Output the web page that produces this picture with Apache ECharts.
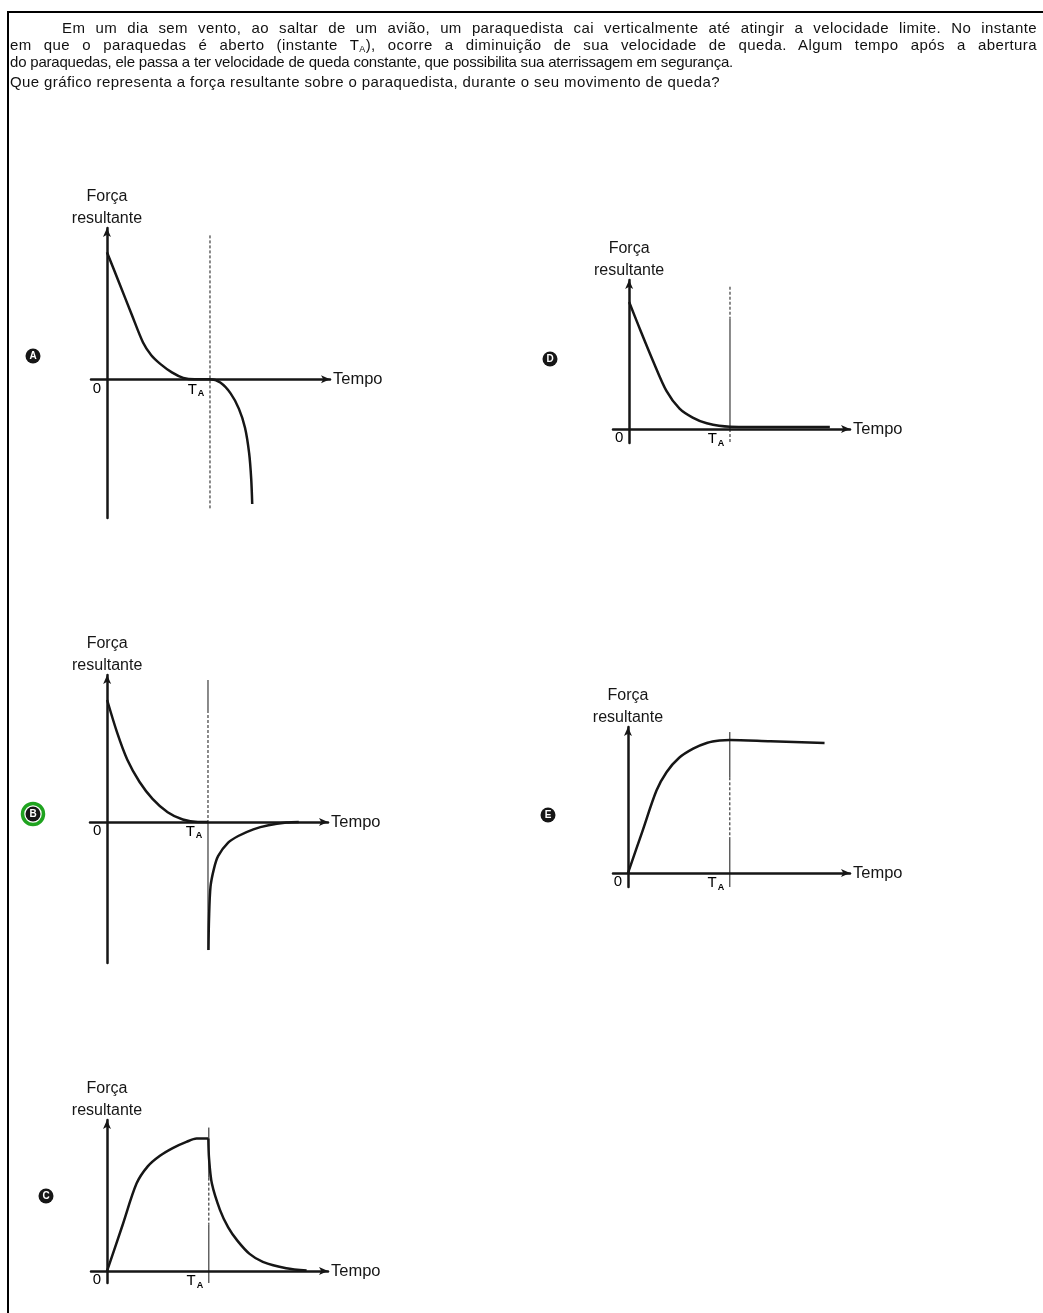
<!DOCTYPE html>
<html>
<head>
<meta charset="utf-8">
<script src="https://cdn.jsdelivr.net/npm/echarts@6/dist/echarts.min.js"></script>
<style>
  html, body { margin: 0; padding: 0; background: #fff; }
  #main { position: absolute; left: 0; top: 0; width: 1043px; height: 1313px; }
  #frame { position: absolute; left: 7px; top: 11px; width: 1036px; height: 1302px;
           border-top: 2px solid #000; border-left: 2px solid #000; pointer-events: none; }
  #question { position: absolute; left: 10px; top: 19px; width: 1027px; color: #111;
              font-family: 'Liberation Sans', Arial, sans-serif; font-size: 15px; line-height: 17px; }
  #question div { white-space: nowrap; }
  #question .j { white-space: normal; text-align: justify; text-align-last: justify; letter-spacing: 0.4px; }
  #question .first { text-indent: 52px; }
  #question .last { letter-spacing: -0.2px; }
  #question .ask { margin-top: 3px; letter-spacing: 0.4px; }
  #question sub { font-size: 9px; vertical-align: -2px; line-height: 0; }
</style>
</head>
<body>
<div id="main"></div>
<div id="frame"></div>
<div id="question">
  <div class="j first">Em um dia sem vento, ao saltar de um avião, um paraquedista cai verticalmente até atingir a velocidade limite. No instante</div>
  <div class="j">em que o paraquedas é aberto (instante T<sub>A</sub>), ocorre a diminuição de sua velocidade de queda. Algum tempo após a abertura</div>
  <div class="last">do paraquedas, ele passa a ter velocidade de queda constante, que possibilita sua aterrissagem em segurança.</div>
  <div class="ask">Que gráfico representa a força resultante sobre o paraquedista, durante o seu movimento de queda?</div>
</div>
<script>
var chartDom = document.getElementById('main');
var myChart = echarts.init(chartDom);

// time in units where T_A = 10, force in units where the peak = 10
var tickValues = [0, 10];
var tickLabels = ['0', 'TA'];
var panelLetters = ['A', 'B', 'C', 'D', 'E'];
var correctLetter = 'B';

var forceA = [[0, 10], [1.2, 7.55], [2.4, 5.1], [3.5, 2.9], [4.3, 1.9], [5.2, 1.2], [6.3, 0.55], [7.4, 0.12], [8.5, 0], [10, 0],
  [11, -0.25], [12, -1.1], [12.8, -2.3], [13.4, -3.8], [13.8, -5.8], [14.0, -7.8], [14.1, -9.8]];

var forceB1 = [[0, 10], [1, 7.3], [2, 5.1], [3.2, 3.3], [4.5, 1.9], [6, 0.8], [7.5, 0.2], [9, 0], [10, 0]];
var forceB2 = [[10.05, -10.5], [10.1, -8], [10.25, -5.3], [10.6, -3.8], [11, -2.8], [12, -1.7], [13, -1.15],
  [14.5, -0.6], [16, -0.27], [17.8, -0.05], [19, 0]];

var forceC1 = [[0, 0], [1.5, 3.4], [2.9, 6.6], [4, 7.9], [5.2, 8.7], [6.5, 9.3], [7.8, 9.75], [8.8, 10], [9.95, 10]];
var forceC2 = [[9.95, 10], [10.02, 8.5], [10.3, 6.6], [11.1, 4.6], [11.9, 3.3], [12.8, 2.3], [14, 1.3],
  [15.3, 0.7], [17.6, 0.22], [19.6, 0.05]];

var forceD = [[0, 10], [1, 8], [2.4, 5.3], [3.7, 3.0], [5, 1.6], [6.3, 0.9], [7.7, 0.45], [10, 0.18], [15, 0.15], [19.9, 0.15]];

var forceE = [[0, 0], [1.4, 3.1], [2.8, 6.2], [3.8, 7.6], [5, 8.65], [6.4, 9.35], [7.8, 9.8], [9, 9.97], [10, 10],
  [14, 9.9], [19.3, 9.78]];

// vertical line at T_A: [from, to, style]
var guideA = [[11.32, -10.14, 'dashed']];
var guideB = [[11.64, 9.18, 'solid'], [9.18, 0, 'dashed'], [0, -10.5, 'solid']];
var guideC = [[10.83, 7.05, 'solid'], [7.05, 3.5, 'dashed'], [3.5, -0.9, 'solid']];
var guideD = [[11.2, 8.7, 'dashed'], [8.7, 0, 'solid'], [0, -1.1, 'dashed']];
var guideE = [[10.6, 7.2, 'solid'], [7.2, 2.7, 'dashed'], [2.7, -1.05, 'solid']];

var panels = [
  { letter: 'A', curves: [forceA], guide: guideA, box: { left: 91, top: 228, width: 239, height: 290 },
    x: [-1.55, 21.65], y: [-10.9, 11.9], mark: [33, 356] },
  { letter: 'B', curves: [forceB1, forceB2], guide: guideB, box: { left: 90, top: 675, width: 238, height: 288 },
    x: [-1.7, 21.9], y: [-11.56, 12.05], mark: [33, 814] },
  { letter: 'C', curves: [forceC1, forceC2], guide: guideC, box: { left: 91, top: 1120, width: 237, height: 163 },
    x: [-1.57, 21.7], y: [-0.9, 11.4], mark: [46, 1196] },
  { letter: 'D', curves: [forceD], guide: guideD, box: { left: 613, top: 280, width: 237, height: 163 },
    x: [-1.6, 21.9], y: [-1.1, 11.73], mark: [550, 359] },
  { letter: 'E', curves: [forceE], guide: guideE, box: { left: 613, top: 727, width: 237, height: 160 },
    x: [-1.47, 21.8], y: [-1.05, 10.98], mark: [548, 815] }
];

var ink = '#161616';
var font = "'Liberation Sans', Arial, sans-serif";

var grids = [], xAxes = [], yAxes = [], series = [], graphics = [];

panels.forEach(function (p, i) {
  grids.push({
    left: p.box.left, top: p.box.top, width: p.box.width, height: p.box.height,
    containLabel: false, outerBoundsMode: 'none'
  });
  xAxes.push({
    gridIndex: i, type: 'value', min: p.x[0], max: p.x[1],
    name: 'Tempo', nameLocation: 'end', nameGap: 3,
    nameTextStyle: { color: ink, fontFamily: font, fontSize: 16.5, align: 'left', verticalAlign: 'middle' },
    axisLine: { onZero: true, symbol: ['none', 'arrow'], symbolSize: [6, 9], lineStyle: { color: ink, width: 2.5 } },
    axisTick: { show: false },
    splitLine: { show: false },
    axisLabel: { show: false }
  });
  yAxes.push({
    gridIndex: i, type: 'value', min: p.y[0], max: p.y[1],
    name: 'Força\nresultante', nameLocation: 'end', nameGap: -2,
    nameTextStyle: { color: ink, fontFamily: font, fontSize: 16, lineHeight: 22, align: 'center' },
    axisLine: { onZero: true, symbol: ['none', 'arrow'], symbolSize: [6, 9], lineStyle: { color: ink, width: 2.5 } },
    axisTick: { show: false },
    axisLabel: { show: false },
    splitLine: { show: false }
  });
  p.guide.forEach(function (g) {
    series.push({
      type: 'line', xAxisIndex: i, yAxisIndex: i, showSymbol: false, silent: true,
      data: [[10, g[0]], [10, g[1]]],
      lineStyle: { color: ink, width: 1, type: g[2] === 'dashed' ? [3, 2] : 'solid' }
    });
  });
  p.curves.forEach(function (c) {
    series.push({
      type: 'line', xAxisIndex: i, yAxisIndex: i, showSymbol: false, silent: true,
      smooth: 0.3,
      data: c,
      lineStyle: { color: ink, width: 2.5 }
    });
  });
  // tick labels 0 and T_A under the time axis
  series.push({
    type: 'scatter', xAxisIndex: i, yAxisIndex: i, silent: true,
    symbol: 'circle', symbolSize: 1, itemStyle: { color: 'rgba(0,0,0,0)' },
    data: tickValues.map(function (v, k) {
      return {
        value: [v, 0],
        label: {
          show: true, position: 'bottom', distance: 1, opacity: 1,
          offset: k === 0 ? [-10, 0] : [-14, 0],
          formatter: k === 0 ? tickLabels[0] : '{t|' + tickLabels[1].charAt(0) + '}{s|' + tickLabels[1].charAt(1) + '}',
          color: '#000', fontFamily: font, fontSize: 15,
          rich: {
            t: { fontSize: 15, fontFamily: font, color: '#000' },
            s: { fontSize: 9, fontFamily: font, fontWeight: 'bold', color: '#000', verticalAlign: 'bottom', padding: [8, 0, 0, 1] }
          }
        }
      };
    })
  });
  if (p.letter === correctLetter) {
    graphics.push({
      type: 'circle', shape: { cx: p.mark[0], cy: p.mark[1], r: 10.5 },
      style: { fill: 'none', stroke: '#1fa31f', lineWidth: 3.5 }
    });
  }
  graphics.push({
    type: 'circle', shape: { cx: p.mark[0], cy: p.mark[1], r: 7.5 },
    style: { fill: ink }
  });
  graphics.push({
    type: 'text', x: p.mark[0], y: p.mark[1] + 0.5,
    style: { text: panelLetters[i], fill: '#fff', font: 'bold 10px ' + font, align: 'center', verticalAlign: 'middle' }
  });
});

var option = {
  backgroundColor: '#fff',
  animation: false,
  grid: grids,
  xAxis: xAxes,
  yAxis: yAxes,
  series: series,
  graphic: graphics
};

option && myChart.setOption(option);
</script>
</body>
</html>
